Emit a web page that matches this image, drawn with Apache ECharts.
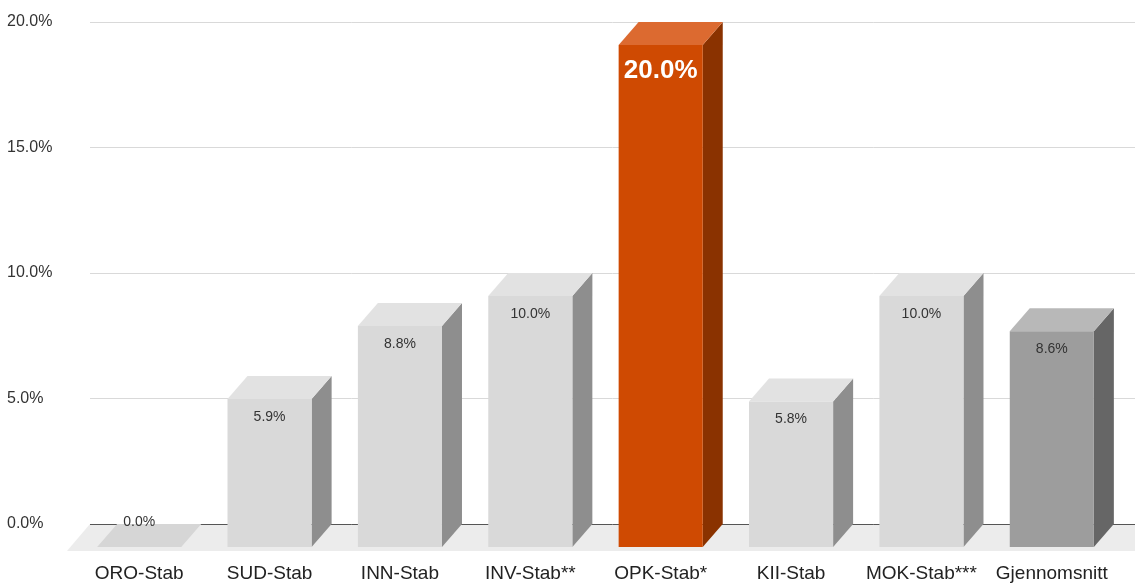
<!DOCTYPE html>
<html>
<head>
<meta charset="utf-8">
<script src="https://cdn.jsdelivr.net/npm/echarts@6/dist/echarts.min.js"></script>
<style>
  html, body { margin: 0; padding: 0; background: #ffffff; }
  #chart { width: 1135px; height: 583px; }
</style>
</head>
<body>
<div id="chart"></div>
<script>
// Share of units per staff, in percent
const categories = ['ORO-Stab', 'SUD-Stab', 'INN-Stab', 'INV-Stab**', 'OPK-Stab*', 'KII-Stab', 'MOK-Stab***', 'Gjennomsnitt'];
const values = [0.0, 5.9, 8.8, 10.0, 20.0, 5.8, 10.0, 8.6];
const yTicks = [0, 5, 10, 15, 20];

// Face colours per bar: front, top, side
const GREY = { front: '#d9d9d9', top: '#e2e2e2', side: '#8e8e8e', label: '#333333' };
const ORANGE = { front: '#cf4a02', top: '#dc6a30', side: '#8a3200', label: '#ffffff' };
const DARK = { front: '#9d9d9d', top: '#b8b8b8', side: '#666666', label: '#333333' };
const faceStyles = [GREY, GREY, GREY, GREY, ORANGE, GREY, GREY, DARK];

// Depth of the extruded boxes (pixels to the right / upwards)
const DEPTH_X = 20;
const DEPTH_Y = 23;

const chart = echarts.init(document.getElementById('chart'), null, { renderer: 'canvas' });

function renderBar(params, api) {
  const i = params.dataIndex;
  const v = api.value(1);
  const base = api.coord([api.value(0), 0]);
  const top = api.coord([api.value(0), v]);
  const w = api.size([1, 0])[0] * 0.645;
  const x0 = base[0] - w / 2;
  const x1 = base[0] + w / 2;
  const yb = base[1];
  const yt = top[1];
  const s = faceStyles[i];
  const big = v >= 15;
  const labelY = v === 0 ? yt - 25 : yt + (big ? 26 : 18);
  return {
    type: 'group',
    children: [
      {
        type: 'polygon',
        shape: { points: [[x1, yt], [x1 + DEPTH_X, yt - DEPTH_Y], [x1 + DEPTH_X, yb - DEPTH_Y], [x1, yb]] },
        style: { fill: s.side }
      },
      {
        type: 'polygon',
        shape: { points: [[x0, yt], [x0 + DEPTH_X, yt - DEPTH_Y], [x1 + DEPTH_X, yt - DEPTH_Y], [x1, yt]] },
        style: { fill: v === 0 ? '#d6d6d6' : s.top }
      },
      {
        type: 'rect',
        shape: { x: x0, y: yt, width: w, height: yb - yt },
        style: { fill: s.front }
      },
      {
        type: 'text',
        style: {
          text: v.toFixed(1) + '%',
          x: base[0],
          y: labelY,
          align: 'center',
          verticalAlign: 'middle',
          fill: s.label,
          font: big ? 'bold 26px "Liberation Sans", Arial, sans-serif' : 'normal 14px "Liberation Sans", Arial, sans-serif'
        }
      }
    ]
  };
}

function renderFloor(params, api) {
  const cs = params.coordSys;
  const yFront = cs.y + cs.height;
  const right = chart.getWidth();
  return {
    type: 'polygon',
    shape: {
      points: [
        [cs.x - 7, yFront + 4],
        [cs.x + 16, yFront - DEPTH_Y],
        [right, yFront - DEPTH_Y],
        [right, yFront + 4]
      ]
    },
    style: { fill: '#ececec' }
  };
}

const option = {
  backgroundColor: '#ffffff',
  animation: false,
  grid: [
    // front plane of the boxes
    { left: 74, right: 18, top: 45, bottom: 36 },
    // back wall carrying the gridlines
    { left: 90, right: 0, top: 22, bottom: 59 }
  ],
  xAxis: [
    {
      gridIndex: 0,
      type: 'category',
      data: categories,
      axisLine: { show: false },
      axisTick: { show: false },
      axisLabel: {
        interval: 0,
        margin: 17,
        color: '#222222',
        fontSize: 19,
        fontFamily: 'Liberation Sans, Arial, sans-serif'
      }
    },
    { gridIndex: 1, type: 'value', show: false }
  ],
  yAxis: [
    { gridIndex: 0, type: 'value', min: yTicks[0], max: yTicks[yTicks.length - 1], show: false },
    {
      gridIndex: 1,
      type: 'value',
      min: yTicks[0],
      max: yTicks[yTicks.length - 1],
      interval: yTicks[1] - yTicks[0],
      axisLine: { show: false },
      axisTick: { show: false },
      axisLabel: {
        margin: 83,
        align: 'left',
        color: '#333333',
        fontSize: 16,
        fontFamily: 'Liberation Sans, Arial, sans-serif',
        formatter: (v) => v.toFixed(1) + '%'
      },
      splitLine: {
        lineStyle: { color: ['#555555', '#d9d9d9', '#d9d9d9', '#d9d9d9', '#d9d9d9'], width: 1 }
      }
    }
  ],
  series: [
    {
      type: 'custom',
      name: 'floor',
      xAxisIndex: 0,
      yAxisIndex: 0,
      z: -1,
      silent: true,
      renderItem: renderFloor,
      data: [[0, 0]]
    },
    {
      type: 'custom',
      name: 'share',
      xAxisIndex: 0,
      yAxisIndex: 0,
      z: 3,
      renderItem: renderBar,
      data: values.map((v, i) => [i, v])
    }
  ]
};

chart.setOption(option);
</script>
</body>
</html>
